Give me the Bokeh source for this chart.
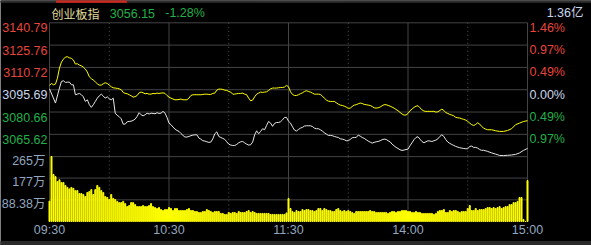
from bokeh.plotting import figure
from bokeh.models import Range1d
from bokeh.core.properties import value
from bokeh.embed import file_html
from bokeh.resources import INLINE

# ---------------- data ----------------
index_name = "创业板指"
last_price = "3056.15"
change_pct = "-1.28%"
turnover = "1.36亿"

price_ticks = [3140.79, 3125.76, 3110.72, 3095.69, 3080.66, 3065.62]
price_floor = 3050.59
price_tick_labels = ["3140.79", "3125.76", "3110.72", "3095.69", "3080.66", "3065.62"]
pct_tick_labels = ["1.46%", "0.97%", "0.49%", "0.00%", "0.49%", "0.97%"]
tick_colors = ["#e8453c", "#e8453c", "#e8453c", "#c8d6ea", "#22b04a", "#22b04a"]

vol_ticks = [265, 177, 88.38]
vol_tick_labels = ["265万", "177万", "88.38万"]

time_ticks = [0, 60, 120, 180, 240]
time_labels = ["09:30", "10:30", "11:30", "14:00", "15:00"]
half_hour_ticks = [30, 90, 150, 210]

price_idx = [0, 3, 5, 6, 7, 8, 9, 10, 11, 12, 13, 14, 15, 16, 17, 18, 19, 20, 21, 22, 23, 24, 25, 26, 27, 28, 29,
             30, 31, 32, 33, 34, 35, 36, 37, 38, 39, 40, 41, 42, 43, 44, 45, 46, 47, 48, 49, 50, 51, 52, 53, 54,
             55, 56, 57, 58, 59, 60, 61, 62, 63, 64, 65, 66, 67, 68, 69, 70, 71, 72, 73, 74, 75, 76, 77, 78, 79,
             80, 81, 82, 83, 84, 85, 86, 87, 88, 89, 90, 91, 92, 93, 94, 95, 96, 97, 98, 99, 100, 101, 102, 103,
             104, 105, 106, 107, 108, 109, 110, 111, 112, 113, 114, 115, 116, 117, 118, 119, 120, 121, 122, 123,
             124, 125, 126, 127, 128, 129, 130, 131, 132, 133, 134, 135, 136, 137, 138, 139, 140, 141, 142, 143,
             144, 145, 146, 147, 148, 149, 150, 151, 152, 153, 154, 155, 156, 157, 158, 159, 160, 161, 162, 163,
             164, 165, 166, 167, 168, 169, 170, 171, 172, 173, 174, 175, 176, 177, 178, 179, 180, 181, 182, 183,
             184, 185, 186, 187, 188, 189, 190, 191, 192, 193, 194, 195, 196, 197, 198, 199, 200, 201, 202, 203,
             204, 205, 206, 207, 208, 209, 210, 211, 212, 213, 214, 215, 216, 217, 218, 220, 222, 224, 226, 228,
             230, 232, 234, 236, 238, 240]
price_val = [3096.3, 3086.7, 3096.8, 3101.3, 3101.7, 3100.6, 3100.8, 3100.8, 3099.0, 3099.0, 3092.3, 3092.7,
             3093.2, 3092.3, 3090.9, 3087.8, 3088.9, 3085.6, 3083.8, 3085.6, 3087.8, 3090.0, 3091.6, 3092.7,
             3091.4, 3090.0, 3090.9, 3089.6, 3088.9, 3090.0, 3079.9, 3078.4, 3077.5, 3076.1, 3072.5, 3072.5,
             3074.1, 3074.3, 3074.5, 3075.0, 3075.9, 3077.7, 3080.2, 3078.8, 3078.1, 3078.8, 3079.9, 3079.3,
             3079.9, 3079.7, 3079.5, 3080.2, 3079.7, 3079.9, 3081.1, 3079.9, 3077.0, 3073.2, 3072.1, 3070.5,
             3069.2, 3068.2, 3067.6, 3066.2, 3064.9, 3063.8, 3063.8, 3064.2, 3064.7, 3065.1, 3065.3, 3065.3,
             3063.1, 3062.4, 3061.3, 3061.1, 3060.6, 3060.2, 3060.4, 3062.6, 3066.0, 3067.3, 3064.2, 3063.5,
             3062.9, 3062.2, 3060.6, 3059.0, 3058.4, 3058.1, 3058.1, 3058.8, 3059.9, 3060.6, 3060.8, 3059.9,
             3059.0, 3058.4, 3058.6, 3060.4, 3065.3, 3068.0, 3066.0, 3067.6, 3069.4, 3068.7, 3071.6, 3074.3,
             3073.2, 3071.0, 3073.0, 3073.6, 3073.6, 3074.1, 3075.4, 3077.0, 3077.0, 3074.5, 3073.2, 3070.7,
             3068.5, 3067.8, 3068.9, 3069.8, 3070.3, 3071.2, 3071.4, 3071.4, 3071.4, 3070.9, 3069.8, 3069.4,
             3069.4, 3068.7, 3067.8, 3066.7, 3065.8, 3064.9, 3064.9, 3064.7, 3064.2, 3063.8, 3063.5, 3062.6,
             3062.4, 3062.0, 3061.3, 3061.3, 3062.2, 3063.3, 3063.5, 3063.5, 3065.1, 3064.4, 3063.5, 3062.9,
             3062.0, 3061.1, 3060.4, 3059.7, 3060.2, 3060.6, 3060.8, 3061.3, 3062.0, 3062.4, 3062.2, 3061.3,
             3060.6, 3059.0, 3057.9, 3056.8, 3056.1, 3055.2, 3054.8, 3055.0, 3055.4, 3055.7, 3057.9, 3059.9,
             3062.0, 3063.5, 3064.0, 3062.4, 3060.8, 3059.9, 3060.6, 3061.3, 3061.1, 3060.8, 3061.3, 3061.7,
             3062.6, 3064.2, 3065.3, 3064.2, 3062.0, 3060.4, 3059.5, 3058.8, 3058.1, 3057.5, 3057.0, 3056.6,
             3056.3, 3056.1, 3055.9, 3055.9, 3057.5, 3057.7, 3056.8, 3056.8, 3056.3, 3055.4, 3054.8, 3054.9,
             3054.1, 3053.1, 3052.3, 3051.4, 3051.3, 3051.5, 3051.7, 3052.1, 3053.1, 3054.8, 3056.15]

avg_idx = list(range(0, 221)) + [222, 224, 226, 228, 230, 232, 234, 236, 238, 240]
avg_val = [3098.6, 3099.9, 3099.0, 3099.5, 3103.5, 3110.3, 3114.3, 3116.3, 3117.7, 3117.9, 3117.2, 3116.8,
           3115.7, 3113.0, 3113.2, 3112.3, 3111.8, 3110.9, 3109.6, 3107.6, 3104.4, 3103.1, 3102.2, 3101.0,
           3099.7, 3098.8, 3098.8, 3099.7, 3100.4, 3099.9, 3098.8, 3097.7, 3097.0, 3096.8, 3096.6, 3096.3,
           3095.7, 3093.9, 3093.2, 3093.0, 3092.3, 3091.6, 3090.7, 3091.0, 3091.8, 3093.6, 3094.1, 3093.6,
           3093.0, 3093.2, 3092.7, 3092.7, 3093.2, 3093.0, 3093.4, 3093.2, 3093.4, 3093.6, 3093.2, 3091.8,
           3090.7, 3090.0, 3089.4, 3088.9, 3088.9, 3089.1, 3089.4, 3088.9, 3088.9, 3088.9, 3090.0, 3091.8,
           3092.3, 3092.3, 3092.3, 3092.3, 3092.3, 3092.5, 3092.7, 3092.7, 3092.5, 3092.5, 3093.2, 3093.4,
           3095.4, 3096.1, 3096.1, 3095.9, 3095.4, 3095.2, 3094.5, 3094.1, 3092.7, 3092.7, 3093.0, 3093.2,
           3093.2, 3093.4, 3092.7, 3092.3, 3090.0, 3088.2, 3088.7, 3090.9, 3092.7, 3093.4, 3094.1, 3093.9,
           3094.1, 3094.3, 3095.2, 3096.3, 3096.8, 3096.8, 3096.8, 3097.0, 3097.2, 3097.2, 3097.5, 3098.6,
           3097.7, 3094.3, 3092.5, 3091.8, 3091.8, 3092.3, 3093.0, 3093.6, 3094.5, 3095.0, 3094.5, 3094.1,
           3093.4, 3092.7, 3092.7, 3092.7, 3092.5, 3091.4, 3090.0, 3088.7, 3088.0, 3087.8, 3087.8, 3087.8,
           3086.9, 3086.0, 3085.3, 3085.1, 3084.6, 3084.0, 3083.1, 3083.3, 3084.4, 3085.3, 3085.6, 3086.2,
           3086.7, 3086.4, 3085.8, 3085.6, 3085.3, 3085.1, 3084.4, 3083.5, 3083.3, 3083.5, 3084.0, 3084.9,
           3085.6, 3085.6, 3085.1, 3084.6, 3084.0, 3083.3, 3082.4, 3081.5, 3080.4, 3079.3, 3078.6, 3078.6,
           3079.7, 3081.5, 3082.6, 3083.8, 3084.6, 3084.9, 3083.5, 3082.2, 3081.3, 3081.1, 3081.1, 3081.1,
           3081.1, 3081.1, 3080.6, 3080.8, 3081.7, 3082.6, 3081.7, 3080.2, 3079.7, 3079.0, 3078.6, 3078.1,
           3077.0, 3076.8, 3076.6, 3076.1, 3075.7, 3075.2, 3074.3, 3073.2, 3072.1, 3071.6, 3072.3, 3073.4,
           3072.5, 3070.9, 3069.8, 3069.1, 3068.7, 3068.7, 3068.0, 3067.6, 3067.6, 3068.2, 3069.4, 3072.1,
           3073.2, 3074.3, 3074.8]

volume = [83, 265, 192, 183, 163, 170, 159, 159, 147, 139, 133, 139, 135, 126, 126, 114, 114, 110, 102, 118,
          122, 130, 110, 130, 147, 139, 126, 118, 102, 98, 90, 110, 94, 90, 82, 77, 77, 82, 73, 61,
          65, 77, 77, 69, 61, 61, 61, 65, 61, 61, 65, 73, 61, 57, 53, 57, 49, 45, 49, 49,
          57, 53, 45, 53, 53, 45, 45, 45, 45, 49, 53, 45, 45, 41, 41, 37, 37, 41, 41, 49,
          45, 41, 37, 41, 41, 41, 33, 33, 29, 29, 37, 33, 37, 37, 33, 41, 37, 37, 37, 41,
          45, 37, 41, 37, 33, 33, 33, 33, 33, 33, 33, 29, 29, 29, 29, 29, 29, 29, 29, 35,
          94,
          53, 41, 37, 45, 41, 41, 49, 45, 49, 49, 45, 45, 41, 45, 53, 53, 45, 53, 49, 45,
          45, 41, 41, 49, 53, 45, 41, 45, 41, 45, 41, 37, 33, 41, 41, 41, 41, 41, 41, 41,
          45, 41, 41, 37, 37, 37, 37, 37, 37, 33, 37, 41, 41, 37, 41, 41, 45, 45, 45, 41,
          41, 37, 37, 41, 37, 37, 33, 33, 33, 33, 33, 33, 29, 33, 41, 45, 45, 49, 37, 37,
          45, 41, 45, 45, 41, 37, 41, 41, 41, 53, 65, 45, 45, 53, 45, 49, 49, 49, 53, 57,
          57, 53, 57, 53, 57, 61, 53, 57, 61, 61, 69, 69, 77, 77, 82, 98, 98, 8, 0, 167]
minutes = list(range(len(volume)))

# ---------------- styles ----------------
BG = "#000000"
GRID = "#444444"
RED = "#e8453c"
GREEN = "#22b04a"
LIGHT = "#c8d6ea"
AXIS_TXT = "#93a6bf"
FONT = value("Liberation Sans, Noto Sans CJK SC")
CJK = value("Noto Sans CJK SC")

p = figure(width=591, height=245, output_backend="svg", toolbar_location=None,
           x_range=Range1d(-24.603, 272.13), y_range=Range1d(2990.7, 3155.82),
           x_axis_type=None, y_axis_type=None, min_border=0,
           background_fill_color=BG, border_fill_color=BG, outline_line_color=None)
p.extra_y_ranges = {"vol": Range1d(-97.8, 901.0)}
p.grid.visible = False

# decorative strips (top tabs, bottom bar)
p.quad(left=[-24.6], right=[272.2], top=[3155.82], bottom=[3154.6], color="#2e2e2e")
p.quad(left=[3.5], right=[38.7], top=[3155.82], bottom=[3154.6], color="#c8281e")
p.quad(left=[-24.6], right=[272.2], top=[2993.4], bottom=[2990.7], color="#2a2a2a")

# grid
levels = price_ticks + [price_floor]
p.segment(x0=0, x1=240, y0=levels, y1=levels, line_color=GRID, line_width=1)
p.segment(x0=0, x1=240, y0=vol_ticks[1:], y1=vol_ticks[1:], line_color=GRID, line_width=1,
          y_range_name="vol")
p.segment(x0=time_ticks, x1=time_ticks, y0=price_ticks[0], y1=price_floor, line_color=GRID, line_width=1)
p.segment(x0=time_ticks, x1=time_ticks, y0=vol_ticks[0], y1=0, line_color=GRID, line_width=1,
          y_range_name="vol")
p.segment(x0=half_hour_ticks, x1=half_hour_ticks, y0=price_ticks[0], y1=price_floor, line_color="#555555",
          line_width=1, line_dash="1 3")
p.segment(x0=half_hour_ticks, x1=half_hour_ticks, y0=vol_ticks[0], y1=0, line_color="#555555",
          line_width=1, line_dash="1 3", y_range_name="vol")

# volume bars
p.vbar(x=minutes, top=volume, bottom=0, width=0.5, color="#ffff00", y_range_name="vol")

# price & average price
p.line(price_idx, price_val, line_color="#e6e6e6", line_width=1)
p.line(avg_idx, avg_val, line_color="#ffff00", line_width=1)

# left price labels
p.text(x=-1, y=price_ticks, text=price_tick_labels, text_color=tick_colors, text_align="right",
       text_baseline="middle", y_offset=5, text_font=FONT, text_font_size="12.5px")
# right percent labels
p.text(x=240, y=price_ticks, text=pct_tick_labels, text_color=tick_colors, text_align="left",
       text_baseline="middle", x_offset=2, y_offset=5, text_font=FONT, text_font_size="12.5px")
# volume labels
p.text(x=-2, y=vol_ticks, text=vol_tick_labels, text_color=AXIS_TXT, text_align="right",
       text_baseline="middle", y_offset=4, text_font=FONT, text_font_size="12.5px", y_range_name="vol")
# time labels
p.text(x=time_ticks, y=-36.6, text=time_labels, text_color=AXIS_TXT, text_align="center",
       text_baseline="middle", text_font=FONT, text_font_size="12.5px", y_range_name="vol")

# header
p.text(x=1, y=3147.06, text=[index_name], text_color="#e2dc9c", text_align="left",
       text_baseline="middle", text_font=CJK, text_font_size="12px")
p.text(x=30.3, y=3147.06, text=[last_price], text_color=GREEN, text_align="left",
       text_baseline="middle", text_font=FONT, text_font_size="12.5px")
p.text(x=58.1, y=3147.06, text=[change_pct], text_color=GREEN, text_align="left",
       text_baseline="middle", text_font=FONT, text_font_size="12.5px")
p.text(x=268.1, y=3147.06, text=[turnover], text_color=LIGHT, text_align="right",
       text_baseline="middle", text_font=FONT, text_font_size="12.5px")

open("out.html", "w").write(file_html(p, INLINE))
